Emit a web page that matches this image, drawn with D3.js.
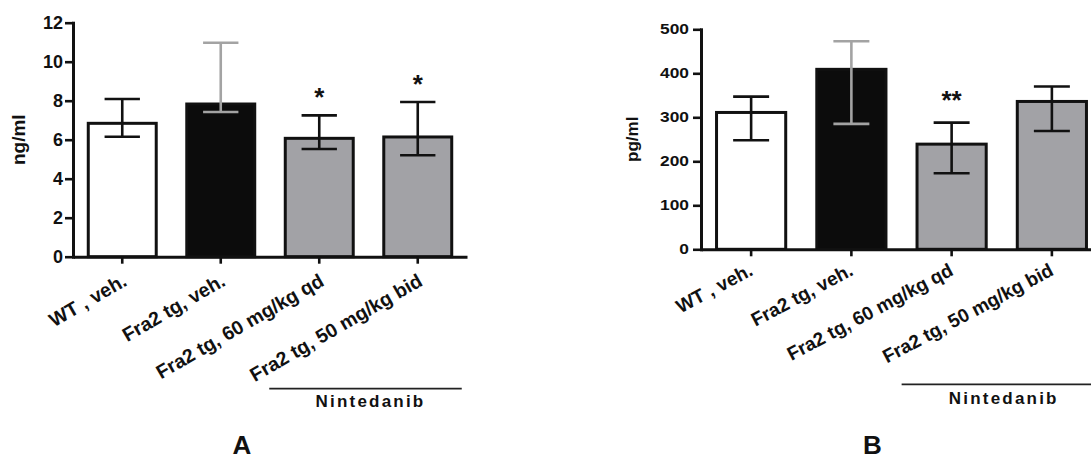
<!DOCTYPE html>
<html>
<head>
<meta charset="utf-8">
<script src="https://cdn.jsdelivr.net/npm/d3@7"></script>
<style>
  body { margin: 0; background: #fff; }
  svg { font-family: 'Liberation Sans', Arial, sans-serif; }
</style>
</head>
<body>
<svg id="chart" width="1091" height="460"></svg>
<script>
// groups on the x axis (same in both panels)
const categories = ['WT , veh.', 'Fra2 tg, veh.', 'Fra2 tg, 60 mg/kg qd', 'Fra2 tg, 50 mg/kg bid'];

// panel A, ng/ml
const aMeans = [6.84, 7.83, 6.07, 6.14];
const aUpper = [8.09, 10.97, 7.25, 7.93];
const aLower = [6.15, 7.42, 5.52, 5.2];
const aStars = ['', '', '*', '*'];
const aTicks = [0, 2, 4, 6, 8, 10, 12];

// panel B, pg/ml
const bMeans = [311, 409, 239, 336];
const bUpper = [347, 473, 288, 370];
const bLower = [248, 285, 173, 269];
const bStars = ['', '', '**', ''];
const bTicks = [0, 100, 200, 300, 400, 500];

const barFill = ['#ffffff', '#0c0c0c', '#a2a2a6', '#a2a2a6'];
const errColor = ['#111', '#a3a3a3', '#111', '#111'];

let svg = d3.select('#chart');

function drawPanel(p) {
  let g = svg.append('g');

  let x = d3
    .scaleBand()
    .domain(categories)
    .range([p.left, p.right])
    .paddingInner(0.31)
    .paddingOuter(0.155);

  let y = d3
    .scaleLinear()
    .domain([0, p.max])
    .range([p.bottom, p.top]);

  let rows = categories.map((c, i) => ({
    cat: c,
    mean: p.means[i],
    upper: p.upper[i],
    lower: p.lower[i],
    star: p.stars[i],
    i: i
  }));

  // bars
  g.selectAll('rect.bar')
    .data(rows)
    .enter()
    .append('rect')
    .classed('bar', true)
    .attr('x', d => x(d.cat))
    .attr('width', x.bandwidth())
    .attr('y', d => y(d.mean))
    .attr('height', d => y(0) - y(d.mean))
    .attr('fill', d => barFill[d.i])
    .attr('stroke', '#111')
    .attr('stroke-width', 3);

  // error bars
  let cap = x.bandwidth() * 0.26;
  let eb = g.selectAll('g.err').data(rows).enter().append('g').classed('err', true)
    .attr('stroke', d => errColor[d.i])
    .attr('stroke-width', 2.6);
  eb.append('line')
    .attr('x1', d => x(d.cat) + x.bandwidth() / 2)
    .attr('x2', d => x(d.cat) + x.bandwidth() / 2)
    .attr('y1', d => y(d.lower))
    .attr('y2', d => y(d.upper));
  eb.append('line')
    .attr('x1', d => x(d.cat) + x.bandwidth() / 2 - cap)
    .attr('x2', d => x(d.cat) + x.bandwidth() / 2 + cap)
    .attr('y1', d => y(d.upper))
    .attr('y2', d => y(d.upper));
  eb.append('line')
    .attr('x1', d => x(d.cat) + x.bandwidth() / 2 - cap)
    .attr('x2', d => x(d.cat) + x.bandwidth() / 2 + cap)
    .attr('y1', d => y(d.lower))
    .attr('y2', d => y(d.lower));

  // significance stars
  g.selectAll('text.star')
    .data(rows.filter(d => d.star))
    .enter()
    .append('text')
    .classed('star', true)
    .attr('x', d => x(d.cat) + x.bandwidth() / 2)
    .attr('y', d => y(d.upper) - p.starLift)
    .attr('text-anchor', 'middle')
    .attr('font-size', p.starSize)
    .attr('font-weight', 'bold')
    .attr('fill', '#111')
    .text(d => d.star);

  // y axis
  let ya = g.append('g')
    .attr('transform', 'translate(' + p.left + ',0)')
    .call(d3.axisLeft(y).tickValues(p.ticks).tickSize(8).tickSizeOuter(0));
  ya.select('.domain').attr('stroke', '#111').attr('stroke-width', 3).attr('stroke-linecap', 'square');
  ya.selectAll('.tick line').attr('stroke', '#111').attr('stroke-width', 2.6);
  ya.selectAll('.tick text')
    .attr('fill', '#111')
    .attr('font-size', p.tickSize)
    .attr('font-weight', 'bold')
    .attr('font-family', "'Liberation Sans', Arial, sans-serif")
    .attr('x', -p.tickGap / p.tickStretch)
    .attr('transform', 'scale(' + p.tickStretch + ',1)');

  // x axis
  let xa = g.append('g')
    .attr('transform', 'translate(0,' + p.bottom + ')')
    .call(d3.axisBottom(x).tickSize(7).tickSizeOuter(0));
  xa.select('.domain').attr('stroke', '#111').attr('stroke-width', 3);
  xa.selectAll('.tick line').attr('stroke', '#111').attr('stroke-width', 2.6);
  xa.selectAll('.tick text')
    .attr('fill', '#111')
    .attr('font-size', p.labelSize)
    .attr('font-weight', 'bold')
    .attr('font-family', "'Liberation Sans', Arial, sans-serif")
    .attr('text-anchor', 'end')
    .attr('x', null)
    .attr('y', null)
    .attr('dy', null)
    .attr('transform', 'translate(' + p.labelDx + ',' + p.labelDy + ') rotate(' + p.angle + ')');

  // y axis title
  g.append('text')
    .attr('transform', 'translate(' + p.titleX + ',' + (p.top + p.bottom) / 2 + ') rotate(-90)')
    .attr('text-anchor', 'middle')
    .attr('font-size', p.titleSize)
    .attr('font-weight', 'bold')
    .attr('fill', '#111')
    .text(p.title);

  // Nintedanib bracket
  let c2 = x(categories[2]) + x.bandwidth() / 2;
  let c3 = x(categories[3]) + x.bandwidth() / 2;
  g.append('line')
    .attr('x1', c2 - 50)
    .attr('x2', c3 + 44)
    .attr('y1', p.bottom + p.lineDrop)
    .attr('y2', p.bottom + p.lineDrop)
    .attr('stroke', '#222')
    .attr('stroke-width', 1.8);
  g.append('text')
    .attr('x', (c2 + c3) / 2 + 2)
    .attr('y', p.bottom + p.lineDrop + p.drugDrop)
    .attr('text-anchor', 'middle')
    .attr('font-size', 17)
    .attr('font-weight', 'bold')
    .attr('letter-spacing', 2.2)
    .attr('fill', '#111')
    .text('Nintedanib');

  // panel letter
  g.append('text')
    .attr('x', p.letterX)
    .attr('y', 454)
    .attr('text-anchor', 'middle')
    .attr('font-size', 26)
    .attr('font-weight', 'bold')
    .attr('fill', '#111')
    .text(p.letter);
}

drawPanel({
  left: 73, right: 467, top: 22.7, bottom: 256.7, max: 12,
  means: aMeans, upper: aUpper, lower: aLower, stars: aStars, ticks: aTicks,
  starSize: 26, starLift: 9,
  tickSize: 18, tickStretch: 1, tickGap: 10,
  labelSize: 19.5, labelDx: 6, labelDy: 28, angle: -30,
  title: 'ng/ml', titleX: 25, titleSize: 19,
  lineDrop: 132, drugDrop: 18,
  letter: 'A', letterX: 242
});

drawPanel({
  left: 701, right: 1102, top: 29.3, bottom: 249.3, max: 500,
  means: bMeans, upper: bUpper, lower: bLower, stars: bStars, ticks: bTicks,
  starSize: 26, starLift: 14,
  tickSize: 14, tickStretch: 1.24, tickGap: 12,
  labelSize: 19, labelDx: 3, labelDy: 25, angle: -28,
  title: 'pg/ml', titleX: 638, titleSize: 17,
  lineDrop: 135, drugDrop: 20,
  letter: 'B', letterX: 872.5
});
</script>
</body>
</html>
